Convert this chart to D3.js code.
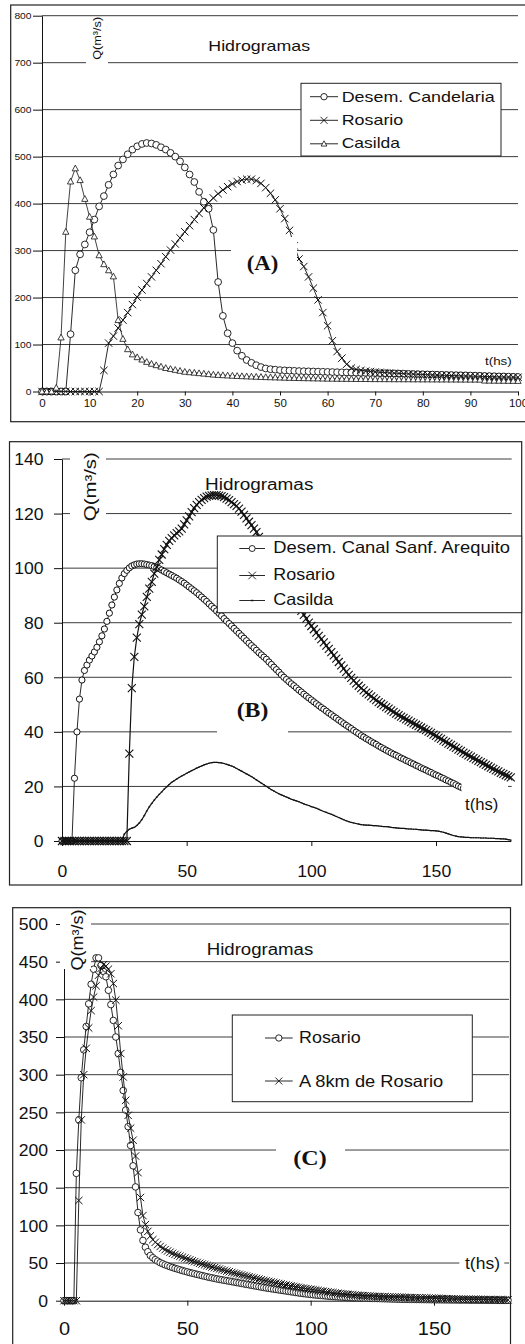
<!DOCTYPE html>
<html>
<head>
<meta charset="utf-8">
<script src="https://cdn.jsdelivr.net/npm/d3@7"></script>
<style>
  body { margin: 0; background: #fff; }
  svg { display: block; }
</style>
</head>
<body>
<script>
// ---------------- data (hourly samples, t = 0, 1, 2 ... hs) ----------------
const hourStep = 1;

// (A) Hidrogramas
const desemCandelariaA = [0,0,0,0,0,0,122,258,292,313,339,366,394,416,440,462,481,494,505,515,522,527,529,528,525,520,515,508,500,490,477,462,446,425,404,389,344,233,161,124,103,87,76,67,61,56,52,49,47.5,46.5,45.5,45,44.5,44,43.5,43.2,42.9,42.6,42.3,42,41.7,41.4,41.1,40.8,40.5,40.2,40,39.7,39.5,39.2,39,38.7,38.5,38.2,38,37.7,37.5,37.2,37,36.7,36.5,36.2,36,35.7,35.5,35.2,35,34.7,34.5,34.2,34,33.7,33.4,33.1,32.8,32.5,32.2,31.9,31.6,31.3,31];
const rosarioA = [0,0,0,0,0,0,0,0,0,0,0,0,0,45,103,118,135,152,168,185,201,216,230,244,258,272,287,301,314,327,340,353,366,379,391,402,412,421,429,436,442,447,450,452,452,449,443,434,422,408,389,368,343,310,282,266,244,220,195,168,140,108,85,71,58,50,47,45,43.5,42.5,41.5,40.8,40.2,39.6,39,38.5,38,37.5,37,36.6,36.2,35.8,35.4,35,34.6,34.3,34,33.7,33.4,33.1,32.8,32.5,32.2,32,31.7,31.5,31.2,31,30.8,30.6,30.4];
const casildaA = [0,0,0,8,115,340,447,475,450,410,372,330,290,271,258,245,152,112,90,79,73,68,63,59,56,53,50,48,46,44,42,41,40,39,38,37,36,35.3,34.7,34.1,33.6,33.1,32.6,32.2,31.8,31.4,31,30.6,30.3,30,29.7,29.4,29.1,28.9,28.6,28.4,28.2,28,27.8,27.6,27.4,27.3,27.1,27,26.9,26.8,26.7,26.6,26.5,26.4,26.3,26.3,26.2,26.2,26.1,26.1,26,26,25.9,25.9,25.8,25.8,25.7,25.7,25.6,25.6,25.5,25.5,25.4,25.4,25.3,25.3,25.2,23.2,23.1,23,22.9,22.8,22.7,22.6,22.5];

// (B) Hidrogramas
const desemArequitoB = [0,0,0,0,0,23,40,52,59,62.5,64.5,66.3,67.8,69.3,71,73,75.2,77.7,80.5,83.5,86.5,89.4,92,94.4,96.4,98,99.2,100.1,100.8,101.2,101.5,101.6,101.6,101.5,101.3,101.1,100.9,100.6,100.2,99.8,99.3,98.8,98.3,97.8,97.3,96.8,96.3,95.7,95.1,94.5,93.8,93.1,92.4,91.7,91,90.2,89.4,88.6,87.8,86.9,86,85.2,84.3,83.4,82.5,81.5,80.6,79.7,78.8,77.9,77,76.1,75.2,74.3,73.4,72.5,71.6,70.8,69.9,69,68.2,67.4,66.6,65.6,64.7,63.7,62.8,61.9,60.9,60,59.2,58.4,57.6,56.9,56.1,55.3,54.6,53.8,53.1,52.4,51.7,51,50.3,49.6,48.9,48.3,47.6,46.9,46.3,45.6,45,44.3,43.7,43,42.4,41.8,41.2,40.5,39.9,39.3,38.6,38.1,37.5,37,36.4,35.9,35.4,34.8,34.3,33.8,33.3,32.8,32.3,31.8,31.4,30.9,30.4,30,29.5,29.1,28.6,28.2,27.7,27.3,26.8,26.4,26,25.5,25.1,24.6,24.2,23.8,23.3,22.9,22.4,22,21.5,21.1,20.6,20.1,19.7,19.3,18.9];
const rosarioB = [0,0,0,0,0,0,0,0,0,0,0,0,0,0,0,0,0,0,0,0,0,0,0,0,0,0,0,32,56,67.5,74.5,79.5,83,86,89.5,92.5,95,98,100.5,103,105,107,108.5,110,111,112,112.8,113.5,114.5,116,117.5,119,120.5,122,123.2,124.2,125,125.7,126.2,126.5,126.7,126.8,126.8,126.6,126.4,126,125.5,124.9,124.2,123.5,122.8,121.8,120.7,119.5,118.2,117,115.8,114.5,113.2,111.5,109.7,107.9,106,104.4,102.8,101.2,99.6,98,96.4,94.8,93.2,91.7,90.2,88.7,87.2,85.7,84.3,82.9,81.5,80,78.8,77.6,76.4,75.2,74,72.8,71.6,70.4,69.2,68,66.8,65.6,64.4,63.2,62,60.9,59.8,58.8,57.8,56.9,56,55.2,54.4,53.7,53,52.3,51.6,50.9,50.3,49.7,49.1,48.5,47.9,47.3,46.7,46.1,45.6,45.1,44.6,44.1,43.6,43.1,42.6,42.1,41.6,41.1,40.6,40.1,39.6,39,38.5,37.9,37.4,36.8,36.3,35.7,35.2,34.6,34.1,33.5,33,32.4,31.9,31.4,30.9,30.4,29.9,29.4,28.9,28.4,27.9,27.4,26.9,26.4,25.9,25.5,25,24.6,24.1,23.7,23.3];
const casildaB = [0,0,0,0,0,0,0,0,0,0,0,0,0,0,0,0,0,0,0,0,0,0,0,0,0,2.5,3.5,4.3,4.7,5,5.7,6.6,7.8,9.3,11,12.5,13.8,15,16.1,17.1,18,19,19.9,20.7,21.5,22.1,22.7,23.3,23.8,24.3,24.8,25.3,25.8,26.2,26.7,27.1,27.5,27.9,28.2,28.5,28.7,28.8,28.8,28.7,28.6,28.4,28.1,27.8,27.5,27.1,26.6,26.1,25.6,25.1,24.6,24.1,23.6,23,22.4,21.8,21.2,20.6,20,19.4,18.8,18.3,17.8,17.3,16.9,16.5,16.1,15.7,15.3,15,14.7,14.4,14,13.6,13.3,13,12.6,12.3,12,11.6,11.2,10.8,10.5,10.1,9.8,9.4,9,8.6,8.2,7.8,7.4,7.1,6.8,6.6,6.4,6.2,6,5.9,5.8,5.8,5.7,5.6,5.6,5.5,5.4,5.3,5.3,5.2,5,4.9,4.8,4.7,4.6,4.6,4.5,4.4,4.4,4.3,4.3,4.2,4.1,4,4,3.9,3.8,3.8,3.7,3.6,3.4,3.2,2.9,2.6,2.3,2,1.8,1.6,1.5,1.4,1.3,1.3,1.2,1.2,1.2,1.2,1.1,1.1,1.1,1,1,1,0.9,0.9,0.8,0.8,0.7,0.5,0.3];

// (C) Hidrogramas
const rosarioC = [0,0,0,0,0,169,240,296,333,364,394,420,440,455,455,445,437,430,412,393,372,350,328,303,279,253,231,206,179,151,117,94,80,71,65,60,57,54.5,52.5,50.5,49,47.6,46.4,45.2,44.1,43,42,41,40,39.1,38.2,37.3,36.5,35.7,34.9,34.1,33.3,32.5,31.7,31,30.3,29.6,28.9,28.3,27.7,27.1,26.5,25.9,25.3,24.7,24.1,23.5,22.9,22.3,21.7,21.1,20.5,19.9,19.3,18.7,18.1,17.5,16.9,16.4,15.9,15.4,14.9,14.4,13.9,13.4,12.9,12.4,11.9,11.4,10.9,10.4,9.9,9.5,9.1,8.7,8.3,7.9,7.6,7.3,7,6.7,6.4,6.1,5.8,5.5,5.3,5.1,4.9,4.7,4.5,4.3,4.1,3.9,3.8,3.7,3.6,3.5,3.4,3.3,3.2,3.1,3,2.9,2.8,2.7,2.6,2.5,2.4,2.3,2.2,2.1,2,1.9,1.9,1.8,1.8,1.7,1.7,1.6,1.6,1.5,1.5,1.4,1.4,1.3,1.3,1.2,1.2,1.2,1.1,1.1,1.1,1,1,1,0.9,0.9,0.9,0.9,0.8,0.8,0.8,0.8,0.7,0.7,0.7,0.7,0.6,0.6,0.6,0.6,0.5,0.5,0.5,0.5,0.5];
const km8RosarioC = [0,0,0,0,0,0,133,240,300,335,362,385,403,418,432,441,446,444,440,434,421,399,365,328,297,266,246,229,213,192,170,137,113,101,92,86,81,77.5,74.5,72,69.8,67.8,66,64.4,62.9,61.5,60.2,59,57.8,56.6,55.4,54.2,53,51.9,50.8,49.7,48.7,47.7,46.7,45.7,44.7,43.8,42.9,42,41.1,40.2,39.3,38.4,37.5,36.6,35.8,35,34.2,33.4,32.6,31.8,31,30.2,29.4,28.6,27.8,27,26.3,25.6,24.9,24.2,23.5,22.8,22.1,21.4,20.8,20.2,19.6,19,18.4,17.8,17.2,16.6,16.1,15.6,15.1,14.6,14.1,13.6,13.1,12.6,12.1,11.6,11.1,10.7,10.3,9.9,9.5,9.1,8.8,8.5,8.2,7.9,7.6,7.3,7,6.8,6.6,6.4,6.2,6,5.8,5.6,5.4,5.3,5.2,5.1,5,4.9,4.8,4.7,4.6,4.5,4.4,4.3,4.2,4.1,4,3.9,3.8,3.7,3.6,3.5,3.4,3.3,3.2,3.1,3,2.9,2.8,2.7,2.6,2.5,2.4,2.3,2.2,2.1,2,2,1.9,1.9,1.8,1.8,1.7,1.7,1.6,1.6,1.5,1.5,1.4,1.4,1.3,1.3,1.2,1.2,1.1];

// tick values
const yTicksA = [0,100,200,300,400,500,600,700,800];
const xTicksA = [0,10,20,30,40,50,60,70,80,90,100];
const yTicksB = [0,20,40,60,80,100,120,140];
const xTicksB = [0,50,100,150];
const yTicksC = [0,50,100,150,200,250,300,350,400,450,500];
const xTicksC = [0,50,100,150];

// text
const chartTitle = "Hidrogramas";
const yTitle = "Q(m³/s)";
const xTitle = "t(hs)";
const legendA = ["Desem. Candelaria", "Rosario", "Casilda"];
const legendB = ["Desem. Canal Sanf. Arequito", "Rosario", "Casilda"];
const legendC = ["Rosario", "A 8km de Rosario"];

// ---------------- drawing helpers ----------------
const sans = "'Liberation Sans', Arial, sans-serif";
const serif = "'Liberation Serif', 'Times New Roman', serif";
const ink = "#111";
const gridInk = "#3c3c3c";

const svg = d3.select("body").append("svg")
  .attr("width", 525).attr("height", 1344);

function label(g, s, x, y, o) {
  const t = g.append("text").attr("x", x).attr("y", y).text(s)
    .attr("font-family", o.family || sans)
    .attr("font-size", o.size)
    .attr("text-anchor", o.anchor || "start")
    .attr("fill", ink);
  if (o.weight) t.attr("font-weight", o.weight);
  if (o.len) t.attr("textLength", o.len).attr("lengthAdjust", "spacingAndGlyphs");
  if (o.rotate) t.attr("transform", `rotate(${o.rotate},${x},${y})`);
  return t;
}

// widen glyphs of a text selection by a factor (scanned type is a bit wide)
function widen(sel, k) {
  sel.each(function () {
    const w = this.getComputedTextLength();
    d3.select(this).attr("textLength", w * k).attr("lengthAdjust", "spacingAndGlyphs");
  });
}

const markers = {
  circle: (g, r, sw) => g.append("circle").attr("r", r)
      .attr("fill", "#fff").attr("stroke", ink).attr("stroke-width", sw || 0.9),
  cross: (g, h, sw) => g.append("path")
      .attr("d", `M${-h},${-h}L${h},${h}M${-h},${h}L${h},${-h}`)
      .attr("fill", "none").attr("stroke", ink).attr("stroke-width", sw || 0.9),
  triangle: (g, h, sw) => g.append("path")
      .attr("d", `M0,${-h}L${h * 0.95},${h * 0.75}L${-h * 0.95},${h * 0.75}Z`)
      .attr("fill", "#fff").attr("stroke", ink).attr("stroke-width", sw || 0.8),
  dot: (g, h) => g.append("rect").attr("x", -h).attr("y", -h * 0.6)
      .attr("width", 2 * h).attr("height", 1.2 * h).attr("fill", ink)
};

function drawSeries(g, vals, x, y, marker, size, lineWidth, markStroke) {
  const pts = vals.map((v, i) => [x(i * hourStep), y(v)]);
  g.append("path").attr("d", d3.line()(pts))
    .attr("fill", "none").attr("stroke", ink).attr("stroke-width", lineWidth);
  const mg = g.append("g");
  pts.forEach(p => {
    const s = mg.append("g").attr("transform", `translate(${p[0]},${p[1]})`);
    markers[marker](s, size, markStroke);
  });
}

function drawGrid(g, ticks, x0, x1, y) {
  ticks.filter(v => v !== 0).forEach(v => {
    g.append("line").attr("x1", x0).attr("x2", x1)
      .attr("y1", y(v)).attr("y2", y(v))
      .attr("stroke", gridInk).attr("stroke-width", 1);
  });
}

function drawAxes(g, x, y, o) {
  const ya = g.append("g").attr("transform", `translate(${x.range()[0]},0)`)
    .call(d3.axisLeft(y).tickValues(o.yTicks).tickSize(o.yTick).tickSizeOuter(0).tickPadding(o.yPad));
  ya.attr("font-family", sans).attr("font-size", o.yFont);
  ya.selectAll("line, path").attr("stroke", ink);
  ya.selectAll("text").attr("fill", ink).attr("dy", o.yDy);
  widen(ya.selectAll("text"), o.yWiden);

  const xa = g.append("g").attr("transform", `translate(0,${y(0)})`)
    .call(d3.axisBottom(x).tickValues(o.xTicks).tickSize(o.xTick).tickSizeOuter(0).tickPadding(o.xPad));
  xa.attr("font-family", sans).attr("font-size", o.xFont);
  xa.selectAll("line, path").attr("stroke", ink);
  xa.selectAll("text").attr("fill", ink);
  widen(xa.selectAll("text"), o.xWiden);
  return [ya, xa];
}

function whiteBox(g, x, y, w, h) {
  g.append("rect").attr("x", x).attr("y", y).attr("width", w).attr("height", h).attr("fill", "#fff");
}

function legend(g, box, rows) {
  g.append("rect").attr("x", box.x).attr("y", box.y).attr("width", box.w).attr("height", box.h)
    .attr("fill", "#fff").attr("stroke", "#222").attr("stroke-width", 1);
  rows.forEach(r => {
    g.append("line").attr("x1", box.lx0).attr("x2", box.lx1)
      .attr("y1", r.ly).attr("y2", r.ly).attr("stroke", ink).attr("stroke-width", 0.9);
    const s = g.append("g").attr("transform", `translate(${(box.lx0 + box.lx1) / 2},${r.ly})`);
    markers[r.marker](s, r.size);
    label(g, r.text, box.tx, r.ty, { size: box.font, len: r.len });
  });
}

// ---------------- panel (A) ----------------
{
  const g = svg.append("g");
  g.append("rect").attr("x", 10.7).attr("y", 5).attr("width", 600).attr("height", 416.7)
    .attr("fill", "#fff").attr("stroke", "#222").attr("stroke-width", 1.2);

  const x = d3.scaleLinear().domain([0, 100]).range([42, 518]);
  const y = d3.scaleLinear().domain([0, 800]).range([391.5, 15.7]);

  drawGrid(g, yTicksA, 42, 518, y);
  drawAxes(g, x, y, {
    yTicks: yTicksA, yTick: 9, yPad: 1.5, yFont: 9.5, yDy: "0.34em", yWiden: 1.08,
    xTicks: xTicksA, xTick: 4, xPad: 3.5, xFont: 11.5, xWiden: 1.0
  });

  drawSeries(g, desemCandelariaA, x, y, "circle", 3.4, 0.9, 0.9);
  drawSeries(g, rosarioA, x, y, "cross", 3.7, 0.9, 1);
  drawSeries(g, casildaA, x, y, "triangle", 3.3, 0.8, 0.8);

  whiteBox(g, 86, 18, 22, 49);
  label(g, yTitle, 101.5, 38.3, { size: 11.5, anchor: "middle", rotate: -90, len: 43 });
  label(g, chartTitle, 259.2, 50.7, { size: 15, anchor: "middle", len: 101.7 });

  legend(g, { x: 301, y: 83.3, w: 200, h: 72.7, lx0: 310, lx1: 338, tx: 341.7, font: 15 }, [
    { text: legendA[0], ly: 96.7, ty: 101.7, len: 153, marker: "circle", size: 3.2 },
    { text: legendA[1], ly: 120.3, ty: 125, len: 61.6, marker: "cross", size: 3.5 },
    { text: legendA[2], ly: 143.8, ty: 148.3, len: 58.3, marker: "triangle", size: 3 }
  ]);

  whiteBox(g, 231, 237, 66, 52);
  label(g, "(A)", 262.5, 270, { size: 20, anchor: "middle", family: serif, weight: "bold", len: 31.7 });
  label(g, xTitle, 485, 365, { size: 11, len: 26.7 });
}

// ---------------- panel (B) ----------------
{
  const g = svg.append("g");
  g.append("rect").attr("x", 9.5).attr("y", 441.7).attr("width", 512.2).attr("height", 443.3)
    .attr("fill", "#fff").attr("stroke", "#222").attr("stroke-width", 1.2);

  const x = d3.scaleLinear().domain([0, 180]).range([62, 510.8]);
  const y = d3.scaleLinear().domain([0, 140]).range([841, 459]);

  drawGrid(g, yTicksB, 62, 511.7, y);
  drawAxes(g, x, y, {
    yTicks: yTicksB, yTick: 8, yPad: 10.5, yFont: 16, yDy: "0.36em", yWiden: 1.1,
    xTicks: xTicksB, xTick: 5, xPad: 20, xFont: 16, xWiden: 1.1
  });

  drawSeries(g, desemArequitoB, x, y, "circle", 3.1, 0.9, 1);
  drawSeries(g, rosarioB, x, y, "cross", 4, 1.2, 1.1);
  drawSeries(g, casildaB, x, y, "dot", 0.9, 1.2);

  whiteBox(g, 70, 446, 36, 80);
  label(g, yTitle, 96, 486.7, { size: 16, anchor: "middle", rotate: -90, len: 69 });
  label(g, chartTitle, 259.2, 490, { size: 16, anchor: "middle", len: 108.3 });

  legend(g, { x: 217.3, y: 536, w: 304.4, h: 76.7, lx0: 239.3, lx1: 265, tx: 273.3, font: 16.5 }, [
    { text: legendB[0], ly: 548.5, ty: 552.7, len: 236.7, marker: "circle", size: 3 },
    { text: legendB[1], ly: 575.5, ty: 580, len: 61.7, marker: "cross", size: 3.8 },
    { text: legendB[2], ly: 600.5, ty: 605, len: 60, marker: "dot", size: 1.2 }
  ]);

  whiteBox(g, 217, 692, 71, 50);
  label(g, "(B)", 252.5, 717.3, { size: 21, anchor: "middle", family: serif, weight: "bold", len: 31.7 });
  whiteBox(g, 461.5, 783, 46.5, 36);
  label(g, xTitle, 465, 810, { size: 16, len: 33.3 });
}

// ---------------- panel (C) ----------------
{
  const g = svg.append("g");
  g.append("rect").attr("x", 12.7).attr("y", 907.7).attr("width", 497.8).attr("height", 500)
    .attr("fill", "#fff").attr("stroke", "#222").attr("stroke-width", 1.2);

  const x = d3.scaleLinear().domain([0, 180]).range([64, 508]);
  const y = d3.scaleLinear().domain([0, 500]).range([1300.7, 924]);

  drawGrid(g, yTicksC, 64, 509, y);
  drawAxes(g, x, y, {
    yTicks: yTicksC, yTick: 8, yPad: 8, yFont: 16, yDy: "0.36em", yWiden: 1.1,
    xTicks: xTicksC, xTick: 5, xPad: 16, xFont: 18.5, xWiden: 1.08
  });

  drawSeries(g, rosarioC, x, y, "circle", 3.3, 0.9, 0.9);
  drawSeries(g, km8RosarioC, x, y, "cross", 3.7, 0.9, 1);

  whiteBox(g, 60, 909, 31, 60);
  label(g, yTitle, 82.5, 940, { size: 16, anchor: "middle", rotate: -90, len: 61 });
  label(g, chartTitle, 260, 955, { size: 16, anchor: "middle", len: 106.6 });

  legend(g, { x: 232.3, y: 1015, w: 240, h: 86.7, lx0: 265, lx1: 292.7, tx: 299, font: 16.5 }, [
    { text: legendC[0], ly: 1038, ty: 1043.3, len: 61.7, marker: "circle", size: 3.2 },
    { text: legendC[1], ly: 1081, ty: 1086.7, len: 144.3, marker: "cross", size: 3.5 }
  ]);

  whiteBox(g, 276, 1132, 69, 42);
  label(g, "(C)", 310, 1165, { size: 22, anchor: "middle", family: serif, weight: "bold", len: 33.3 });
  whiteBox(g, 459.3, 1251, 45, 26);
  label(g, xTitle, 465, 1269.3, { size: 17, len: 35 });
}
</script>
</body>
</html>
